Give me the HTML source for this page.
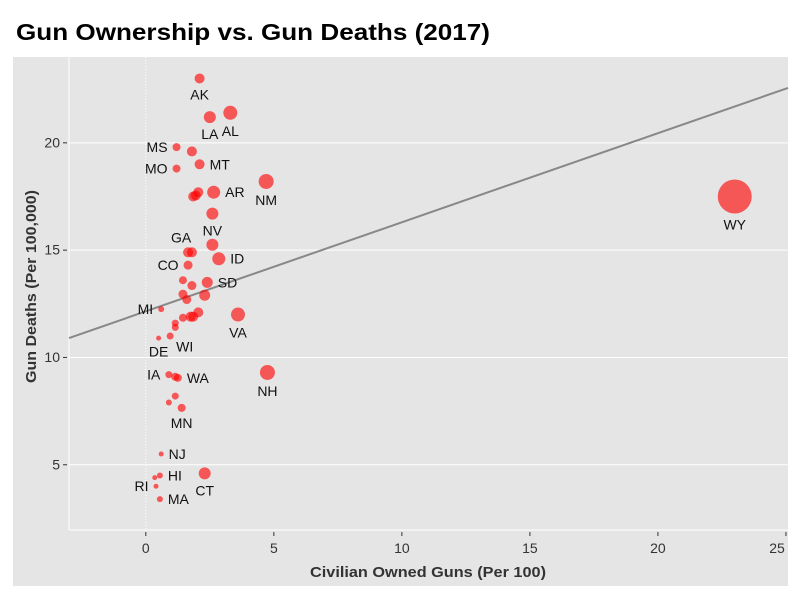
<!DOCTYPE html>
<html><head><meta charset="utf-8"><style>
body{margin:0;background:#fff;}
svg text{font-family:"Liberation Sans","DejaVu Sans",sans-serif;}
</style></head><body>
<svg id="chart" width="800" height="600" xmlns="http://www.w3.org/2000/svg">
<text x="16" y="40" font-size="23" font-weight="bold" fill="#000" textLength="474" lengthAdjust="spacingAndGlyphs">Gun Ownership vs. Gun Deaths (2017)</text>
<rect x="13" y="57" width="775" height="529" fill="#e5e5e5"/>
<g id="grid"></g><g id="marks"></g><g id="labels"></g>
<text x="310" y="577" font-size="15" font-weight="bold" fill="#333" textLength="236" lengthAdjust="spacingAndGlyphs">Civilian Owned Guns (Per 100)</text>
<text transform="translate(36,383) rotate(-90)" font-size="15" font-weight="bold" fill="#333" textLength="193" lengthAdjust="spacingAndGlyphs">Gun Deaths (Per 100,000)</text>
</svg>
<script>
const states=["AK","AL","LA","MS","","MT","MO","NM","AR","","","","NV","","GA","","ID","CO","","","SD","","","","MI","","","","","VA","","","WI","DE","IA","WA","","NH","","","MN","NJ","HI","","CT","RI","MA","WY"];
const guns=[2.1,3.3,2.5,1.2,1.8,2.1,1.2,4.7,2.65,2.05,1.85,1.95,2.6,2.6,1.65,1.8,2.85,1.65,1.45,1.8,2.4,1.45,2.3,1.6,0.6,2.05,1.75,1.85,1.45,3.6,1.15,1.15,0.95,0.5,0.9,1.25,1.15,4.75,1.15,0.9,1.4,0.6,0.55,0.35,2.3,0.4,0.55,23.0];
const deaths=[23.0,21.4,21.2,19.8,19.6,19.0,18.8,18.2,17.7,17.7,17.5,17.55,16.7,15.25,14.9,14.9,14.6,14.3,13.6,13.35,13.5,12.95,12.9,12.7,12.25,12.1,11.9,11.9,11.85,12.0,11.6,11.4,11.0,10.9,9.2,9.05,9.1,9.3,8.2,7.9,7.65,5.5,4.5,4.4,4.6,4.0,3.4,17.5];
const sizes=[5,7,6,4,5,5,4,7.5,6.5,5,5,5,6,6,5,5,6.5,4.5,4,4.5,5.5,4.5,5.5,4.5,3,5,5,5,4,7,3.5,3.5,3.5,2.5,3.5,4,4,7.5,3.5,3,4,2.5,3,2.5,6,2.5,3,17];
const labelPos=["b","b","b","l","","r","l","b","r","","","","b","","gl","","r","l","","","r","","","","l","","","","","b","","","br","b","l","r","","b","","","b","r","r","","b","l","r","b"];
const xTicks=[0,5,10,15,20,25];
const yTicks=[5,10,15,20];
const slope=0.415, intercept=12.15;

const X0=69,X1=788,Y0=530,Y1=57,xmin=-3,xmax=25.08,ymin=1.96,ymax=24.0;
const sx=v=>X0+(v-xmin)/(xmax-xmin)*(X1-X0);
const sy=v=>Y0-(v-ymin)/(ymax-ymin)*(Y0-Y1);
const NS="http://www.w3.org/2000/svg";
function mk(t,a,p){const e=document.createElementNS(NS,t);for(const k in a)e.setAttribute(k,a[k]);p.appendChild(e);return e;}
const grid=document.getElementById('grid'),marks=document.getElementById('marks'),labs=document.getElementById('labels');
yTicks.forEach(t=>{
  const l=mk('line',{x1:X0,x2:X1,y1:sy(t),y2:sy(t),stroke:'#fff','stroke-width':1},grid);
  
  
  mk('line',{x1:X0-6,x2:X0-2,y1:sy(t),y2:sy(t),stroke:'#333'},grid);
  const tx=mk('text',{x:X0-9,y:sy(t)+4.5,'font-size':14,fill:'#333','text-anchor':'end'},grid);tx.textContent=t;
  
  
});
xTicks.forEach(t=>{
  if(t===0){mk('line',{x1:sx(0),x2:sx(0),y1:Y1,y2:Y0,stroke:'#fff','stroke-dasharray':'1,2'},grid);}
  mk('line',{x1:sx(t),x2:sx(t),y1:Y0+2,y2:Y0+6,stroke:'#333'},grid);
  const tx=mk('text',{x:Math.min(sx(t),777),y:Y0+23,'font-size':14,fill:'#333','text-anchor':'middle'},grid);tx.textContent=t;
  
  
});
mk('line',{x1:X0,x2:X0,y1:Y1,y2:Y0,stroke:'#fff'},grid);
mk('line',{x1:X0,x2:X1,y1:Y0,y2:Y0,stroke:'#fff'},grid);
const rl=mk('line',{x1:sx(xmin),y1:sy(intercept+slope*xmin),x2:sx(xmax),y2:sy(intercept+slope*xmax),stroke:'#888','stroke-width':2},marks);


guns.forEach((g,i)=>{
  const cx=sx(g),cy=sy(deaths[i]),r=sizes[i];
  const c=mk('circle',{cx:cx,cy:cy,r:r,fill:'#ff0000','fill-opacity':0.62},marks);
  
  
  if(!states[i])return;
  const p=labelPos[i];let x=cx,y=cy,a='middle';
  if(p==='b'){y=cy+r+16;}
  else if(p==='l'){x=cx-r-5;y=cy+5;a='end';}
  else if(p==='r'){x=cx+r+5;y=cy+5;a='start';}
  else if(p==='br'){x=cx+6;y=cy+r+12;a='start';}
  else if(p==='gl'){x=cx-7;y=cy-10;}
  const t=mk('text',{x:x,y:y,'font-size':14,fill:'#111','text-anchor':a},labs);t.textContent=states[i];
  
  
});
</script>
</body></html>
